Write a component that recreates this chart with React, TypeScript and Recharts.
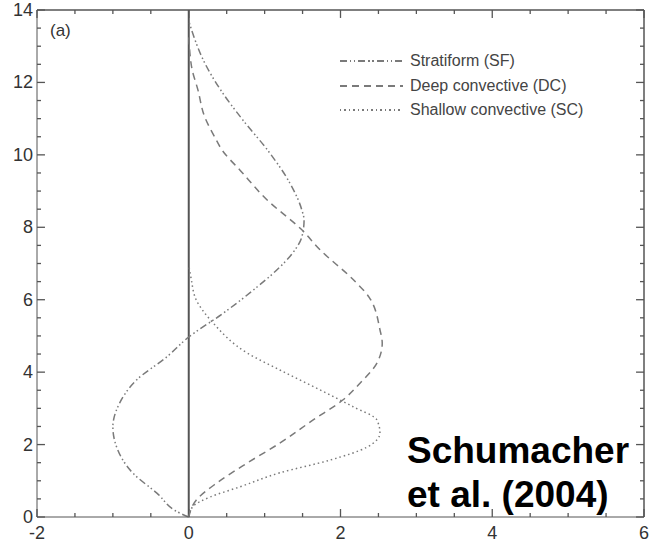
import { LineChart, Line, XAxis, YAxis, ReferenceLine } from "recharts";

// heights (km) and values for each profile
const sfHeight = [0, 0.11, 0.66, 1.22, 1.93, 2.49, 3.15, 3.78, 4.42, 4.97, 5.62, 6.35, 6.82, 7.29, 7.73, 8.2, 8.48, 9.23, 10.1, 10.97, 11.7, 12.54, 13.37, 13.7];
const sfValue = [0, -0.12, -0.42, -0.74, -0.95, -1.0, -0.91, -0.69, -0.29, 0, 0.45, 0.9, 1.16, 1.37, 1.49, 1.52, 1.49, 1.33, 1.05, 0.71, 0.45, 0.21, 0.05, 0];

const dcHeight = [0, 0.47, 0.94, 1.49, 2.04, 2.68, 3.23, 3.7, 4.25, 4.8, 5.17, 6.06, 6.55, 7.38, 7.93, 8.76, 9.59, 10.1, 10.5, 11.05, 11.8, 12.4, 13.35];
const dcValue = [0, 0.1, 0.37, 0.77, 1.2, 1.64, 2.03, 2.26, 2.48, 2.55, 2.52, 2.38, 2.17, 1.73, 1.49, 1.03, 0.67, 0.45, 0.34, 0.21, 0.12, 0.04, 0];

const scHeight = [0, 0.28, 0.55, 0.83, 1.22, 1.57, 1.93, 2.32, 2.68, 3.04, 3.51, 4.06, 4.53, 5.36, 5.99, 6.6, 6.95];
const scValue = [0, 0.05, 0.28, 0.67, 1.2, 1.86, 2.35, 2.52, 2.48, 2.17, 1.73, 1.2, 0.77, 0.32, 0.1, 0.03, 0];

const xTicks = [-2, -1.5, -1, -0.5, 0, 0.5, 1, 1.5, 2, 2.5, 3, 3.5, 4, 4.5, 5, 5.5, 6];
const xLabels = [-2, 0, 2, 4, 6];
const yTicks = [0, 0.5, 1, 1.5, 2, 2.5, 3, 3.5, 4, 4.5, 5, 5.5, 6, 6.5, 7, 7.5, 8, 8.5, 9, 9.5, 10, 10.5, 11, 11.5, 12, 12.5, 13, 13.5, 14];
const yLabels = [0, 2, 4, 6, 8, 10, 12, 14];

const seriesNames = ["Stratiform (SF)", "Deep convective (DC)", "Shallow convective (SC)"];

const X_MIN = -2;
const X_MAX = 6;
const Y_MIN = 0;
const Y_MAX = 14;

// tick lengths in data units (about 8px / 4px on screen)
const XT_MAJOR = 0.22;
const XT_MINOR = 0.11;
const YT_MAJOR = 0.105;
const YT_MINOR = 0.053;

const toRows = (h: number[], v: number[]) => h.map((hh, i) => ({ h: hh, v: v[i] }));

const AXIS = "#555";
const LINE = "#7a7a7a";
const TEXT = "#333";
const FONT = "'Liberation Sans', Arial, sans-serif";

const DASH_SF = "7 3 1.5 2.5 1.5 3";
const DASH_DC = "7 5";
const DASH_SC = "1.5 3";

const BG_SF = `repeating-linear-gradient(to right, ${LINE} 0 7px, transparent 7px 10px, ${LINE} 10px 11.5px, transparent 11.5px 14px, ${LINE} 14px 15.5px, transparent 15.5px 18.5px)`;
const BG_DC = `repeating-linear-gradient(to right, ${LINE} 0 7px, transparent 7px 12px)`;
const BG_SC = `repeating-linear-gradient(to right, ${LINE} 0 1.5px, transparent 1.5px 4.5px)`;

// frame edges and inward tick marks, as short segments in data space
const frameSegments = [
  [{ h: Y_MAX, v: X_MIN }, { h: Y_MAX, v: X_MAX }],
  [{ h: Y_MIN, v: X_MAX }, { h: Y_MAX, v: X_MAX }],
];
const tickSegments = [
  ...xTicks.flatMap((t) => {
    const len = xLabels.includes(t) ? XT_MAJOR : XT_MINOR;
    return [
      [{ h: Y_MIN, v: t }, { h: Y_MIN + len, v: t }],
      [{ h: Y_MAX - len, v: t }, { h: Y_MAX, v: t }],
    ];
  }),
  ...yTicks.flatMap((t) => {
    const len = yLabels.includes(t) ? YT_MAJOR : YT_MINOR;
    return [
      [{ h: t, v: X_MIN }, { h: t, v: X_MIN + len }],
      [{ h: t, v: X_MAX - len }, { h: t, v: X_MAX }],
    ];
  }),
];

function BottomLabel(props: any) {
  const { x, y, payload } = props;
  if (!xLabels.includes(payload.value)) return <g />;
  return (
    <text x={x} y={y + 22} textAnchor="middle" fill={TEXT} fontSize={18} fontFamily={FONT}>
      {payload.value}
    </text>
  );
}

function LeftLabel(props: any) {
  const { x, y, payload } = props;
  if (!yLabels.includes(payload.value)) return <g />;
  return (
    <text x={x - 4} y={y + 6} textAnchor="end" fill={TEXT} fontSize={18} fontFamily={FONT}>
      {payload.value}
    </text>
  );
}

const abs = (left: number, top: number, size: number, extra: any = {}) => ({
  position: "absolute" as const,
  left,
  top,
  fontSize: size,
  lineHeight: `${size}px`,
  fontFamily: FONT,
  whiteSpace: "nowrap" as const,
  ...extra,
});

export default function App() {
  const legendRows = [
    { name: seriesNames[0], bg: BG_SF, y: 61 },
    { name: seriesNames[1], bg: BG_DC, y: 86 },
    { name: seriesNames[2], bg: BG_SC, y: 110 },
  ];
  return (
    <div style={{ position: "absolute", left: 0, top: 0, width: 650, height: 545, background: "#fff" }}>
      <LineChart width={650} height={545} layout="vertical" margin={{ top: 10, right: 6, bottom: 0, left: 0 }}>
        <XAxis
          type="number"
          domain={[X_MIN, X_MAX]}
          ticks={xTicks}
          interval={0}
          height={28}
          tickSize={0}
          tickMargin={0}
          tickLine={false}
          stroke={AXIS}
          tick={(p: any) => <BottomLabel {...p} />}
        />
        <YAxis
          type="number"
          dataKey="h"
          domain={[Y_MIN, Y_MAX]}
          ticks={yTicks}
          interval={0}
          reversed
          width={37}
          tickSize={0}
          tickMargin={0}
          tickLine={false}
          stroke={AXIS}
          tick={(p: any) => <LeftLabel {...p} />}
        />
        <ReferenceLine x={0} stroke={AXIS} strokeWidth={2} />
        {frameSegments.map((seg, i) => (
          <Line
            key={`frame${i}`}
            data={seg}
            dataKey="v"
            type="linear"
            stroke={AXIS}
            strokeWidth={1.5}
            dot={false}
            activeDot={false}
            legendType="none"
            isAnimationActive={false}
          />
        ))}
        {tickSegments.map((seg, i) => (
          <Line
            key={`tick${i}`}
            data={seg}
            dataKey="v"
            type="linear"
            stroke={AXIS}
            strokeWidth={1.3}
            dot={false}
            activeDot={false}
            legendType="none"
            isAnimationActive={false}
          />
        ))}
        <Line
          data={toRows(sfHeight, sfValue)}
          dataKey="v"
          name={seriesNames[0]}
          type="monotoneY"
          stroke={LINE}
          strokeWidth={1.5}
          strokeDasharray={DASH_SF}
          dot={false}
          isAnimationActive={false}
        />
        <Line
          data={toRows(dcHeight, dcValue)}
          dataKey="v"
          name={seriesNames[1]}
          type="monotoneY"
          stroke={LINE}
          strokeWidth={1.5}
          strokeDasharray={DASH_DC}
          dot={false}
          isAnimationActive={false}
        />
        <Line
          data={toRows(scHeight, scValue)}
          dataKey="v"
          name={seriesNames[2]}
          type="monotoneY"
          stroke={LINE}
          strokeWidth={1.5}
          strokeDasharray={DASH_SC}
          dot={false}
          isAnimationActive={false}
        />
      </LineChart>
      <div style={abs(50, 21.6, 17, { color: TEXT })}>(a)</div>
      {legendRows.map((r) => (
        <div key={r.name}>
          <div style={{ position: "absolute", left: 340, top: r.y - 0.75, width: 63, height: 1.5, background: r.bg }} />
          <div style={abs(410, r.y - 8, 16, { color: "#444" })}>{r.name}</div>
        </div>
      ))}
      <div style={abs(407, 431.7, 37, { fontWeight: "bold", color: "#000" })}>Schumacher</div>
      <div style={abs(407, 475.7, 37, { fontWeight: "bold", color: "#000" })}>et al. (2004)</div>
    </div>
  );
}
